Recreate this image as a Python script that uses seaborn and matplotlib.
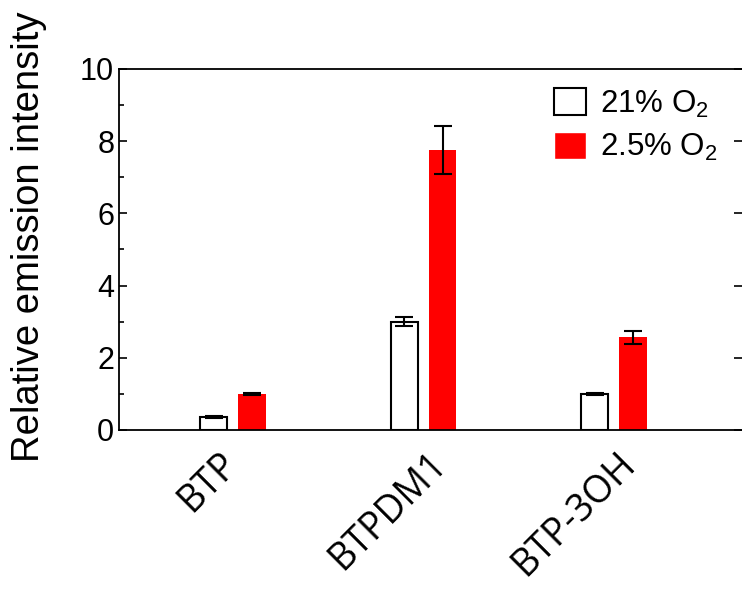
import numpy as np
import pandas as pd
import seaborn as sns
import matplotlib.pyplot as plt
import matplotlib.transforms as mtransforms

# values
samples = ['BTP', 'BTPDM1', 'BTP-3OH']
conditions = ['21% O$_2$', '2.5% O$_2$']
air_vals = [0.35, 3.0, 1.0]
air_err = [0.03, 0.12, 0.03]
low_vals = [1.0, 7.75, 2.57]
low_err = [0.05, 0.67, 0.18]

df = pd.DataFrame({
    'sample': samples * 2,
    'cond': [conditions[0]] * 3 + [conditions[1]] * 3,
    'value': air_vals + low_vals,
    'err': air_err + low_err,
})

sns.set_style('ticks')
plt.rcParams['font.family'] = ['Liberation Sans', 'DejaVu Sans']
plt.rcParams['mathtext.fontset'] = 'custom'
plt.rcParams['mathtext.rm'] = 'Liberation Sans'
plt.rcParams['mathtext.it'] = 'Liberation Sans:italic'
for k in ['text.color', 'axes.labelcolor', 'xtick.color', 'ytick.color',
          'axes.edgecolor']:
    plt.rcParams[k] = 'black'

fig = plt.figure(figsize=(7.42, 5.90), dpi=100)
ax = fig.add_axes([0.1604, 0.2712, 0.8396, 0.6119])

sns.barplot(data=df, x='sample', y='value', hue='cond', order=samples,
            hue_order=conditions, palette=['white', '#ff0000'],
            saturation=1, width=0.4, gap=0.29, errorbar=None, ax=ax)

# style bars and add error bars at the bar centres
bars = [p for p in ax.patches if p.get_height() > 0]
for p in bars:
    if p.get_facecolor()[1] > 0.5:
        p.set_edgecolor('black')
        p.set_linewidth(1.5)
    else:
        p.set_edgecolor('none')
for p in bars:
    cx = p.get_x() + p.get_width() / 2
    h = p.get_height()
    e = df.loc[np.isclose(df['value'], h), 'err'].iloc[0]
    ax.errorbar(cx, h, yerr=e, color='black', capsize=6.5,
                elinewidth=1.5, capthick=1.5)

ax.set_xlim(-0.598, 2.672)
ax.set_ylim(0, 10)
ax.set_yticks([0, 2, 4, 6, 8, 10])
ax.set_yticks([1, 3, 5, 7, 9], minor=True)
ax.set_xlabel('')
ax.set_ylabel('Relative emission intensity', fontsize=27.5, labelpad=24, y=0.535)
ax.tick_params(axis='y', which='major', direction='in', length=6, width=1.2,
               labelsize=22, right=True)
ax.tick_params(axis='y', which='minor', direction='in', length=3.5, width=1.2)
ax.tick_params(axis='x', length=0, pad=11)
ax.set_xticks(range(3))
ax.set_xticklabels(samples, rotation=45, ha='right', rotation_mode='anchor',
                   fontsize=27, family=['Open Sans', 'DejaVu Sans'])
# labels in the reference sit a little off their ticks
shifts = [-14, 4, 2]
for lab, dx in zip(ax.get_xticklabels(), shifts):
    off = mtransforms.ScaledTranslation(dx / 100, 0, fig.dpi_scale_trans)
    lab.set_transform(lab.get_transform() + off)
for s in ['left', 'top', 'bottom']:
    ax.spines[s].set_linewidth(1.3)
ax.spines['right'].set_visible(False)

leg = ax.legend(loc='upper left', bbox_to_anchor=(0.698, 0.947), frameon=False,
                fontsize=22.5, handlelength=1.02, handleheight=0.96,
                handletextpad=0.45, labelspacing=0.4, borderpad=0,
                borderaxespad=0)
for h in leg.legend_handles:
    if h.get_facecolor()[1] > 0.5:
        h.set_edgecolor('black')
        h.set_linewidth(1.5)

fig.savefig('out.png', dpi=100)
